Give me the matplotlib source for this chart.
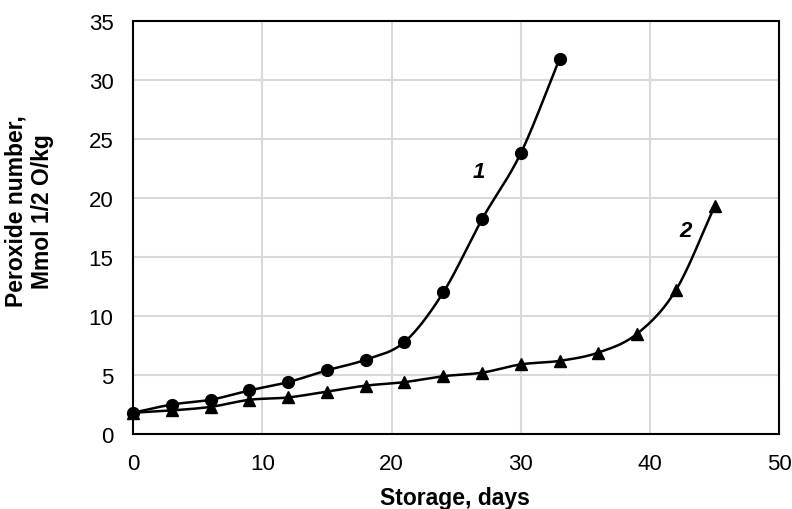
import numpy as np
import matplotlib
matplotlib.use("Agg")
import matplotlib.pyplot as plt

plt.rcParams['font.family'] = ['Liberation Sans', 'DejaVu Sans']

# storage time, days
days1 = [0, 3, 6, 9, 12, 15, 18, 21, 24, 27, 30, 33]
pn1 = [1.8, 2.5, 2.9, 3.7, 4.4, 5.4, 6.3, 7.8, 12.0, 18.2, 23.8, 31.8]

days2 = [0, 3, 6, 9, 12, 15, 18, 21, 24, 27, 30, 33, 36, 39, 42, 45]
pn2 = [1.8, 2.0, 2.3, 2.9, 3.1, 3.6, 4.1, 4.4, 4.9, 5.2, 5.9, 6.2, 6.9, 8.5, 12.2, 19.3]


def smooth(x, y, n=30):
    # catmull-rom through the points, like excel's smoothed line
    x = np.asarray(x, float)
    y = np.asarray(y, float)
    px = np.concatenate([[2 * x[0] - x[1]], x, [2 * x[-1] - x[-2]]])
    py = np.concatenate([[2 * y[0] - y[1]], y, [2 * y[-1] - y[-2]]])
    xs, ys = [], []
    t = np.linspace(0, 1, n)
    for i in range(1, len(px) - 2):
        for p, out in ((px, xs), (py, ys)):
            p0, p1, p2, p3 = p[i - 1], p[i], p[i + 1], p[i + 2]
            out.append(0.5 * (2 * p1 + (-p0 + p2) * t
                              + (2 * p0 - 5 * p1 + 4 * p2 - p3) * t ** 2
                              + (-p0 + 3 * p1 - 3 * p2 + p3) * t ** 3))
    return np.concatenate(xs), np.concatenate(ys)


fig = plt.figure(figsize=(7.92, 5.10), dpi=100)
ax = fig.add_axes([0.168, 0.147, 0.816, 0.81])

sx, sy = smooth(days1, pn1)
ax.plot(sx, sy, color='black', lw=1.8, zorder=3)
ax.plot(days1, pn1, 'o', color='black', ms=8.5, zorder=4, clip_on=False)

sx, sy = smooth(days2, pn2)
ax.plot(sx, sy, color='black', lw=1.8, zorder=3)
ax.plot(days2, pn2, '^', color='black', ms=8.5, zorder=4, clip_on=False)

ax.text(26.3, 21.8, '1', fontsize=16, fontweight='bold', style='italic')
ax.text(42.3, 16.8, '2', fontsize=16, fontweight='bold', style='italic')

ax.set_xlim(0, 50)
ax.set_ylim(0, 35)
ax.set_xticks(range(0, 51, 10))
ax.set_yticks(range(0, 36, 5))
ax.tick_params(length=0, labelsize=16, pad=14)
ax.grid(True, color='#d9d9d9', lw=1.5)
ax.set_axisbelow(True)
for s in ax.spines.values():
    s.set_linewidth(1.5)

ax.set_xlabel('Storage, days', fontsize=16.5, fontweight='bold')
ax.xaxis.set_label_coords(0.498, -0.125)
ax.set_ylabel('Peroxide number,\nMmol 1/2 O/kg', fontsize=16.5, fontweight='bold',
              linespacing=1.2)
ax.yaxis.set_label_coords(-0.122, 0.541)

plt.savefig('out.png', dpi=100)
